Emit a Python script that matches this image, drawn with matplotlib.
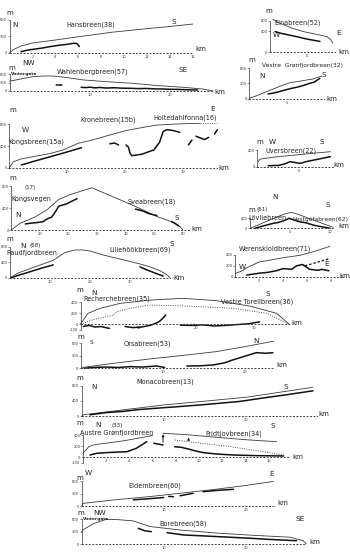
import matplotlib
matplotlib.use("Agg")
import matplotlib.pyplot as plt

W, H = 350, 552
fig = plt.figure(figsize=(W / 100, H / 100), dpi=100)
fig.patch.set_facecolor("white")

# ---------------- data (km, m) ----------------
# Hansbreen
hans_surf_km = [0, 0.4, 1, 2, 4, 6, 9, 12, 14, 16]
hans_surf_m = [0, 60, 120, 175, 230, 290, 375, 440, 480, 525]
hans_bed_km = [1.0, 1.5, 2.1, 2.8, 3.5, 4.2, 5.0, 5.6, 5.9, 6.1]
hans_bed_m = [15, 40, 60, 80, 107, 130, 150, 170, 165, 110]

# Wahlenbergbreen
wahl_surf_km = [0, 1, 2, 3, 4.2, 5.4, 7, 9.2, 12, 15.4, 18, 21.6, 24, 25.3]
wahl_surf_m = [350, 400, 460, 510, 530, 530, 480, 390, 330, 270, 200, 130, 70, 0]
wahl_bed1_km = [5.8, 6.5]
wahl_bed1_m = [215, 210]
wahl_bed2_km = [8.9, 9.5, 10, 10.6, 11.2, 12, 13, 14, 15, 16, 17, 18, 19, 20, 21, 22, 23.4]
wahl_bed2_m = [130, 120, 135, 110, 125, 105, 115, 100, 95, 85, 90, 75, 70, 60, 55, 45, 35]

# Kongsbreen / Kronebreen / Holtedahlfonna
kong_surf_km = [0, 0.7, 2, 4.1, 7, 9.3, 11.9, 14, 17.4, 20, 23.8, 25.5, 28, 30, 33]
kong_surf_m = [0, 110, 160, 203, 260, 326, 450, 500, 603, 680, 756, 785, 800, 810, 818]
kong_surf_dot_km = [33, 36]
kong_surf_dot_m = [818, 818]
kong_bed1_km = [2.1, 4, 6, 8, 10, 12.5]
kong_bed1_m = [50, 110, 170, 230, 290, 369]
kong_bed2_km = [17.4, 18.2, 18.9]
kong_bed2_m = [440, 455, 420]
kong_bed3_km = [20.2, 20.6, 20.9, 21.2, 21.8, 23, 24, 25, 26, 26.6, 27.2, 27.8, 28.6, 29.5]
kong_bed3_m = [420, 380, 265, 222, 230, 250, 290, 326, 470, 663, 700, 695, 680, 650]
kong_bed4_km = [31.0, 31.6]
kong_bed4_m = [420, 510]
kong_bed5_km = [32.3, 33, 33.8, 34.5]
kong_bed5_m = [580, 550, 520, 560]
kong_bed6_km = [35.5, 36]
kong_bed6_m = [620, 700]

# Kongsvegen / Sveabreen
kv_surf_km = [0, 3.1, 8, 12.5, 16.5, 20.6, 24, 28.2, 33, 39.3, 45, 50.9, 54, 57.3, 59, 60]
kv_surf_m = [0, 122, 230, 368, 552, 644, 700, 767, 660, 521, 390, 245, 190, 123, 60, 0]
kv_bed1_km = [4.9, 7, 9, 11, 13, 14, 14.9, 16, 16.5, 18, 19.4, 21, 23]
kv_bed1_m = [110, 125, 135, 150, 215, 230, 290, 380, 430, 455, 476, 520, 570]
kv_bed2_km = [43.4, 45, 46.3, 48, 50.9]
kv_bed2_m = [380, 360, 340, 300, 262]
kv_bed3_km = [56, 57.2, 58.5]
kv_bed3_m = [155, 120, 74]

# Raudfjordbreen / Liliehöökbreen
rf_surf_km = [0, 2, 5.8, 10.8, 13.75, 16.25, 18.3, 20, 23.3, 28, 32.5, 35, 37.5, 39, 40]
rf_surf_m = [0, 120, 264, 448, 650, 715, 715, 690, 585, 470, 354, 280, 180, 90, 0]
rf_bed1_km = [0.4, 2, 4, 5.8, 8, 10.8]
rf_bed1_m = [0, 60, 120, 180, 250, 330]
rf_bed2_km = [32.5, 34, 36, 38.3]
rf_bed2_m = [280, 210, 130, 40]

# Elnabreen
eln_surf_km = [0.4, 1, 2, 3, 4.5, 6, 7.7, 8.2, 8.5]
eln_surf_m = [630, 580, 520, 460, 395, 350, 297, 240, 170]
eln_bed_km = [0.7, 1.5, 2.2, 3.5, 5, 6.75]
eln_bed_m = [395, 360, 340, 300, 250, 205]

# Vestre Grønfjordbreen
vg_surf_km = [0, 1, 2, 3, 4, 5.4, 6.5, 7.3, 8.5, 9.7]
vg_surf_m = [8, 60, 120, 180, 240, 316, 340, 360, 390, 448]
vg_bed_km = [2.5, 3.5, 4.5, 5.5, 6.3, 7, 8, 8.7, 9.4]
vg_bed_m = [93, 120, 160, 200, 225, 250, 300, 330, 400]

# Uversbreen
uv_surf_km = [0.1, 0.3, 2, 4, 6, 8.7]
uv_surf_m = [120, 180, 230, 270, 310, 360]
uv_bed_km = [1.3, 2.5, 3.3, 3.9, 4.5, 5.1, 6, 7, 8.7]
uv_bed_m = [24, 30, 70, 120, 100, 80, 130, 170, 240]

# Lövliebreen / Vestgötabreen
lv_surf_km = [0, 1, 2, 3, 4.2, 5.2, 6, 7, 8, 9, 10.4]
lv_surf_m = [0, 130, 270, 400, 560, 640, 560, 440, 320, 200, 40]
lv_bed_km = [0.6, 1.5, 2.9, 3.5, 4.2, 4.9, 5.5, 6.2, 7, 8, 9, 10]
lv_bed_m = [0, 80, 200, 230, 300, 400, 330, 260, 220, 120, 60, 0]

# Werenskioldbreen
we_surf_km = [0, 0.5, 1, 2, 3, 4, 5.4, 6.5, 7.9]
we_surf_m = [62, 100, 170, 273, 310, 350, 395, 460, 560]
we_bed_km = [0.95, 2, 2.7, 3.4, 4, 4.7, 5.1, 5.6, 6.2, 6.9, 7.2, 7.8]
we_bed_m = [30, 65, 80, 109, 150, 136, 200, 225, 136, 118, 136, 109]
we_dash_km = [5.8, 7.8]
we_dash_m = [200, 330]

# Recherchebreen / Vestre Torellbreen
re_surf_km = [0, 0.1, 1.3, 3.4, 6.8, 12, 17.7, 23.4, 29.2, 33.8, 36]
re_surf_m = [0, 18, 200, 290, 380, 440, 472, 430, 331, 200, 0]
re_dot_km = [0, 2, 4.5, 5.7, 6.3, 9, 12, 18.9, 26.4, 32.1, 36]
re_dot_m = [0, 80, 140, 170, 230, 300, 350, 330, 290, 200, 0]
re_bed1_km = [0.5, 1.5, 2.5, 3.5, 5]
re_bed1_m = [-40, -20, -50, -40, -75]
re_bed2_km = [7.7, 9, 10.5, 12, 13, 13.6, 14.2, 14.7]
re_bed2_m = [-40, -60, -50, -20, 20, 50, 110, 170]
re_bed3_km = [17.2, 19, 21, 23, 25, 27, 29, 30.9]
re_bed3_m = [-15, -20, -10, -30, -20, -5, 10, 45]

# Orsabreen
or_surf_km = [0, 0.3, 4, 8.4, 12, 16.5, 20, 23.5]
or_surf_m = [0, 24, 120, 225, 300, 400, 520, 650]
or_bed1_km = [0.4, 1.5, 3, 4.5, 6, 7.5, 9.2, 10.2]
or_bed1_m = [0, 20, 30, 20, 40, 30, 55, 20]
or_bed2_km = [12.9, 14.5, 16.1, 17.5, 18.5, 19.8, 21.4, 22.5, 23.4]
or_bed2_m = [55, 60, 80, 130, 200, 280, 375, 360, 375]

# Monacobreen
mo_surf_km = [0, 0.2, 5, 10, 15, 20.1, 24, 28.2]
mo_surf_m = [0, 32, 160, 290, 390, 495, 620, 755]
mo_bed_km = [1, 3, 5, 7, 9.95, 12, 14.4, 16, 19.3, 22, 25, 28.2]
mo_bed_m = [32, 90, 120, 170, 218, 250, 290, 320, 384, 470, 560, 663]

# Austre Grønfjordbreen / Fridtjovbreen
ag_surf_km = [0, 0.5, 1, 2.3, 3.5, 5.2, 6]
ag_surf_m = [73, 193, 230, 265, 300, 364, 400]
fr_surf_km = [6.9, 9, 11.5, 14, 16.7]
fr_surf_m = [436, 410, 364, 320, 284]
fr_dash_km = [7.9, 10, 12.5, 15, 17.3]
fr_dash_m = [315, 260, 200, 120, 42]
ag_bed1_km = [0.6, 1.2, 2, 3, 3.8, 4.6, 5.1, 5.5]
ag_bed1_m = [42, 73, 85, 95, 102, 164, 230, 284]
ag_bed2_km = [6.1, 6.9]
ag_bed2_m = [255, 224]
fr_bed_km = [7.9, 8.5, 9.2, 9.8, 10.4, 11.5, 12.9, 15, 17.3]
fr_bed_m = [193, 180, 145, 110, 84, 60, 42, 30, 24]
fr_arrow_km = [6.9, 9.1]
fr_arrow_lo = [224, 255]
fr_arrow_hi = [470, 410]

# Eidembreen
ei_surf_km = [0, 0.2, 4, 8.3, 12, 16, 20, 23.4]
ei_surf_m = [0, 65, 150, 230, 310, 400, 500, 600]
ei_bed1_km = [6.3, 8, 10]
ei_bed1_m = [150, 175, 207]
ei_bed2_km = [10.6, 11.2]
ei_bed2_m = [235, 225]
ei_bed3_km = [12, 13.6]
ei_bed3_m = [250, 310]
ei_bed4_km = [14.8, 16.5, 18.5]
ei_bed4_m = [350, 380, 407]

# Borebreen
bo_surf_km = [0, 0.2, 1.5, 3, 4.5, 6.3, 8.3, 12, 16.5, 21, 25.4, 27, 27.4]
bo_surf_m = [300, 350, 500, 600, 590, 560, 425, 340, 265, 210, 165, 80, 0]
bo_bed1_km = [6.9, 7.7, 8.5]
bo_bed1_m = [380, 320, 300]
bo_bed2_km = [10.4, 12.4, 14.5, 16.5, 18.5, 20.5, 23, 26.2]
bo_bed2_m = [275, 220, 200, 180, 160, 140, 110, 80]

SURF = dict(color="#3a3a3a", lw=0.6, solid_capstyle="round")
BED = dict(color="#111111", lw=1.1, solid_capstyle="round")
DOT = dict(color="#3a3a3a", lw=0.6, ls=(0, (1.2, 1.6)))
TICK_FS = 2.6


def panel(x0, y0, kx, ky, xmax, ymin, ymax, xticks, yticks, ylabels=None):
    left = x0 / W
    width = xmax * kx / W
    bottom = 1 - (y0 - ymin * ky) / H
    height = (ymax - ymin) * ky / H
    ax = fig.add_axes([left, bottom, width, height])
    ax.set_xlim(0, xmax)
    ax.set_ylim(ymin, ymax)
    ax.patch.set_visible(False)
    for s in ("top", "right"):
        ax.spines[s].set_visible(False)
    ax.spines["left"].set_bounds(min(yticks), max(yticks))
    ax.spines["left"].set_linewidth(0.5)
    ax.spines["left"].set_color("#333333")
    ax.spines["bottom"].set_position(("data", 0))
    ax.spines["bottom"].set_linestyle((0, (1, 2.5)))
    ax.spines["bottom"].set_linewidth(0.7)
    ax.spines["bottom"].set_color("#444444")
    ax.set_xticks(xticks)
    ax.set_xticklabels([str(t) for t in xticks])
    ax.set_yticks(yticks)
    ax.set_yticklabels(ylabels if ylabels else [str(t) for t in yticks])
    ax.tick_params(axis="x", length=0, pad=1.5, labelsize=TICK_FS, colors="#333333")
    ax.tick_params(axis="y", length=1.2, width=0.4, pad=0.6, labelsize=TICK_FS, colors="#333333")
    return ax


def line(ax, xs, ys, style):
    ax.plot(xs, ys, clip_on=False, **style)


def T(x, y, s, size=5, ha="center", **kw):
    fig.text(x / W, 1 - y / H, s, fontsize=size, ha=ha, va="center", color="#222222", **kw)


NAME = 4.7
DIR = 5.2

# Hansbreen
ax = panel(9.5, 52.5, 11.45, 0.0542, 16, 0, 620, [2, 4, 6, 8, 10, 12, 14, 16], [0, 300, 600])
line(ax, hans_surf_km, hans_surf_m, SURF)
line(ax, hans_bed_km, hans_bed_m, BED)
T(10, 13, "m"); T(15, 25, "N", DIR); T(91, 25, "Hansbreen(38)", NAME); T(174, 22, "S", DIR); T(201, 49, "km")

# Wahlenbergbreen
ax = panel(9.5, 91, 8.05, 0.0283, 25.3, 0, 620, [10, 20], [0, 300, 600])
line(ax, wahl_surf_km, wahl_surf_m, SURF)
line(ax, wahl_bed1_km, wahl_bed1_m, BED)
line(ax, wahl_bed2_km, wahl_bed2_m, BED)
T(11.5, 68, "m"); T(29, 63, "NW", DIR); T(11, 74, "Vintergata", 3.2, ha="left", fontweight="bold")
T(93, 72, "Wahlenbergbreen(57)", NAME); T(183, 70, "SE", DIR); T(220, 92, "km")

# Kongsbreen / Kronebreen / Holtedahlfonna
ax = panel(9.3, 167.7, 5.78, 0.05425, 36, 0, 830, [10, 20, 30], [0, 400, 800])
line(ax, kong_surf_km, kong_surf_m, SURF)
line(ax, kong_surf_dot_km, kong_surf_dot_m, DOT)
for xs, ys in [(kong_bed1_km, kong_bed1_m), (kong_bed2_km, kong_bed2_m), (kong_bed3_km, kong_bed3_m),
               (kong_bed4_km, kong_bed4_m), (kong_bed5_km, kong_bed5_m), (kong_bed6_km, kong_bed6_m)]:
    line(ax, xs, ys, BED)
T(13, 110, "m"); T(25, 130, "W", DIR); T(36.7, 141.7, "Kongsbreen(15a)", NAME)
T(108, 120, "Kronebreen(15b)", NAME); T(185, 117.7, "Holtedahlfonna(16)", NAME)
T(213, 109, "E", DIR); T(224, 168, "km")

# Kongsvegen / Sveabreen
ax = panel(11.3, 230, 2.86, 0.055, 62, 0, 800, [10, 20, 30, 40, 50, 60], [0, 400, 800])
line(ax, kv_surf_km, kv_surf_m, SURF)
line(ax, kv_bed1_km, kv_bed1_m, BED)
line(ax, kv_bed2_km, kv_bed2_m, BED)
line(ax, kv_bed3_km, kv_bed3_m, BED)
T(13, 178, "m"); T(30, 188, "(17)", 4); T(31, 199, "Kongsvegen", NAME); T(18, 215, "N", DIR)
T(152, 202, "Sveabreen(18)", NAME); T(177, 218, "S", DIR); T(197, 229, "km")

# Raudfjordbreen / Liliehöökbreen
ax = panel(10, 277.7, 4.0, 0.03875, 40, 0, 800, [10, 20, 30], [0, 400, 800])
line(ax, rf_surf_km, rf_surf_m, SURF)
line(ax, rf_bed1_km, rf_bed1_m, BED)
line(ax, rf_bed2_km, rf_bed2_m, BED)
T(10, 239, "m"); T(23, 246, "N", DIR); T(35, 246, "(68)", 4); T(32, 252.7, "Raudfjordbreen", NAME)
T(140, 250, "Liliehöökbreen(69)", NAME); T(172, 244, "S", DIR); T(179, 278, "Km")

# Elnabreen
ax = panel(270, 52, 7.4, 0.0517, 8.8, 0, 640, [5], [0, 400, 600])
line(ax, eln_surf_km, eln_surf_m, SURF)
line(ax, eln_bed_km, eln_bed_m, BED)
T(269, 11, "m"); T(298, 23, "Elnabreen(52)", NAME); T(276, 35, "W", DIR); T(339, 33, "E", DIR); T(344, 52, "km")

# Vestre Grønfjordbreen
ax = panel(249.3, 98.7, 7.5, 0.0507, 10, 0, 600, [5], [0, 300, 600])
line(ax, vg_surf_km, vg_surf_m, SURF)
line(ax, vg_bed_km, vg_bed_m, BED)
T(252, 59.5, "m"); T(302, 65, "Vestre  Grønfjordbreen(32)", 4.3); T(262, 76, "N", DIR)
T(324, 75.3, "S", DIR); T(332, 98.7, "km")

# Uversbreen
ax = panel(257.3, 166.7, 8.4, 0.04175, 9.3, 0, 400, [5], [0, 400])
line(ax, uv_surf_km, uv_surf_m, SURF)
line(ax, uv_bed_km, uv_bed_m, BED)
T(260, 142, "m"); T(272, 142, "W", DIR); T(322, 142, "S", DIR); T(291, 151, "Uversbreen(22)", NAME); T(339, 165, "km")

# Lövliebreen / Vestgötabreen
ax = panel(250, 228.3, 8.0, 0.025, 10.5, 0, 650, [5, 10], [0, 400])
line(ax, lv_surf_km, lv_surf_m, SURF)
line(ax, lv_bed_km, lv_bed_m, BED)
T(251.7, 210, "m"); T(262, 209, "(61)", 4); T(275, 197, "N", DIR); T(328, 205, "S", DIR)
T(267, 217.5, "Lövliebreen", NAME); T(321, 220, "Vestgöfabreen(62)", 4.3); T(344, 226, "km")

# Werenskioldbreen
ax = panel(235.3, 276.7, 12.0, 0.05425, 9, 0, 560, [2, 4, 6, 8], [0, 200, 400])
line(ax, we_surf_km, we_surf_m, SURF)
line(ax, we_bed_km, we_bed_m, BED)
ax.plot(we_dash_km, we_dash_m, color="#111111", lw=0.9, ls=(0, (2, 1.5)), clip_on=False)
T(239, 248.3, "Werenskioldbreen(71)", NAME, ha="left"); T(242, 267, "W", DIR); T(327, 264, "E", DIR); T(345, 276, "km")

# Recherchebreen / Vestre Torellbreen
ax = panel(80.5, 324.3, 5.8, 0.055, 36, -100, 480, [10, 20, 30], [-100, 0, 200, 400])
line(ax, re_surf_km, re_surf_m, SURF)
line(ax, re_dot_km, re_dot_m, DOT)
line(ax, re_bed1_km, re_bed1_m, BED)
line(ax, re_bed2_km, re_bed2_m, BED)
line(ax, re_bed3_km, re_bed3_m, BED)
T(80, 290, "m"); T(94.3, 293.3, "N", DIR); T(117, 298.3, "Recherchebreen(35)", NAME)
T(268.3, 294, "S", DIR); T(257, 301.7, "Vestre Torellbreen(36)", NAME); T(297, 323.3, "km")

# Orsabreen
ax = panel(81, 368.3, 8.2, 0.0417, 23.4, 0, 650, [10, 20], [0, 300, 600])
line(ax, or_surf_km, or_surf_m, SURF)
line(ax, or_bed1_km, or_bed1_m, BED)
line(ax, or_bed2_km, or_bed2_m, BED)
T(81, 337, "m"); T(91.7, 342.7, "S", DIR - 1); T(147, 343.3, "Orsabreen(53)", NAME); T(256, 340.7, "N", DIR)
T(282, 365, "km")

# Monacobreen
ax = panel(81.7, 416, 8.2, 0.038, 28.7, 0, 800, [10, 20], [0, 400, 800])
line(ax, mo_surf_km, mo_surf_m, SURF)
line(ax, mo_bed_km, mo_bed_m, BED)
T(80, 378.3, "m"); T(94.3, 387.3, "N", DIR); T(165, 382, "Monacobreen(13)", NAME); T(286, 387.3, "S", DIR)
T(324, 414, "km")

# Austre Grønfjordbreen / Fridtjovbreen
ax = panel(83, 457.3, 11.6, 0.055, 17.8, -100, 480, [2, 4, 6, 8, 10, 12, 14, 16], [-100, 0, 200, 400])
line(ax, ag_surf_km, ag_surf_m, SURF)
line(ax, fr_surf_km, fr_surf_m, SURF)
line(ax, fr_dash_km, fr_dash_m, DOT)
line(ax, ag_bed1_km, ag_bed1_m, BED)
line(ax, ag_bed2_km, ag_bed2_m, BED)
line(ax, fr_bed_km, fr_bed_m, BED)
for xk, lo, hi in zip(fr_arrow_km, fr_arrow_lo, fr_arrow_hi):
    ax.annotate("", xy=(xk, hi), xytext=(xk, lo), annotation_clip=False,
                arrowprops=dict(arrowstyle="-|>", lw=0.7, color="#111111", mutation_scale=3))
T(80, 423.3, "m"); T(97.7, 425, "N", DIR); T(117.3, 426, "(33)", 4)
T(117, 432.7, "Austre Grønfjordbreen", NAME); T(233.3, 433.3, "Fridtjovbreen(34)", NAME)
T(272.7, 426, "S", DIR); T(298.3, 456.7, "km")

# Eidembreen
ax = panel(81.7, 506, 8.2, 0.041, 23.6, 0, 620, [10, 20], [0, 300, 600])
line(ax, ei_surf_km, ei_surf_m, SURF)
for xs, ys in [(ei_bed1_km, ei_bed1_m), (ei_bed2_km, ei_bed2_m), (ei_bed3_km, ei_bed3_m), (ei_bed4_km, ei_bed4_m)]:
    line(ax, xs, ys, BED)
T(80, 478.3, "m"); T(88.3, 472.7, "W", DIR); T(155, 486, "Eidembreen(60)", NAME); T(271.7, 474, "E", DIR)
T(283, 502.7, "km")

# Borebreen
ax = panel(81.7, 544, 8.2, 0.0412, 27.4, 0, 620, [10, 20], [0, 300, 600])
line(ax, bo_surf_km, bo_surf_m, SURF)
line(ax, bo_bed1_km, bo_bed1_m, BED)
line(ax, bo_bed2_km, bo_bed2_m, BED)
T(81, 513.3, "m"); T(100, 513.3, "NW", DIR); T(83, 519.3, "Vintergata", 3.2, ha="left", fontweight="bold")
T(183.3, 523.3, "Borebreen(58)", NAME); T(300, 519.3, "SE", DIR); T(315, 541.7, "km")

fig.savefig("out.png", dpi=100, facecolor="white")
